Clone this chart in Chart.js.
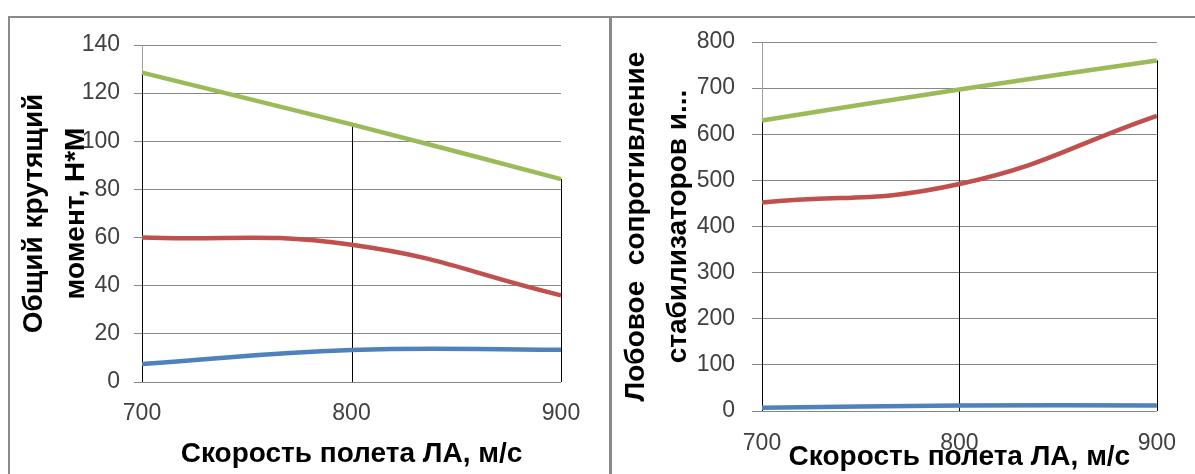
<!DOCTYPE html>
<html>
<head>
<meta charset="utf-8">
<script src="https://cdn.jsdelivr.net/npm/chart.js@4"></script>
<style>
  body { margin: 0; background: #fff; width: 1195px; height: 474px; overflow: hidden; position: relative; }
  .panel { position: absolute; top: 16px; height: 470px; border-top: 2px solid #8a8a8a; border-left: 2px solid #8a8a8a; }
  #leftPanel { left: 8px; width: 601px; }
  #rightPanel { left: 609px; width: 586px; border-left-width: 3px; }
  canvas { display: block; }
</style>
</head>
<body>
<div class="panel" id="leftPanel"><canvas id="torque" width="599" height="456"></canvas></div>
<div class="panel" id="rightPanel"><canvas id="drag" width="583" height="456"></canvas></div>
<script>
const speeds = [700, 800, 900];

// left chart: общий крутящий момент, Н*М
const torqueBlue = [7.5, 13.3, 13.4];
const torqueRed = [60, 57, 36];
const torqueGreen = [128.5, 107, 84.3];

// right chart: лобовое сопротивление
const dragBlue = [7, 12, 12];
const dragRed = [452, 492, 640];
const dragGreen = [630, 697, 760];

const FONT = "'Liberation Sans', Arial, sans-serif";

// Excel-style drop lines from the highest series down to zero
const dropLines = {
    id: 'dropLines',
    beforeDatasetsDraw(chart) {
        const { ctx, scales: { x, y } } = chart;
        ctx.save();
        ctx.strokeStyle = '#000';
        ctx.lineWidth = 1;
        speeds.forEach((s, i) => {
            const top = Math.max(...chart.data.datasets.map(d => d.data[i]));
            const px = Math.round(x.getPixelForValue(i)) + 0.5;
            ctx.beginPath();
            ctx.moveTo(px, y.getPixelForValue(top));
            ctx.lineTo(px, y.getPixelForValue(0));
            ctx.stroke();
        });
        ctx.restore();
    }
};

function line(data, color) {
    return { data: data, borderColor: color, borderWidth: 4.5, pointRadius: 0, tension: 0.45, fill: false };
}

function makeChart(id, series, cfg) {
    new Chart(document.getElementById(id), {
        type: 'line',
        data: {
            labels: speeds,
            datasets: [
                line(series[0], '#4F81BD'),
                line(series[1], '#C0504D'),
                line(series[2], '#9BBB59')
            ]
        },
        plugins: [dropLines],
        options: {
            responsive: false,
            animation: false,
            layout: { padding: { left: 0, top: cfg.top, right: cfg.right, bottom: 0 } },
            plugins: { legend: { display: false }, tooltip: { enabled: false } },
            scales: {
                x: {
                    offset: false,
                    grid: { display: false, drawTicks: false },
                    border: { display: false },
                    ticks: { color: '#404040', padding: cfg.xPad, font: { family: FONT, size: 23 } },
                    title: {
                        display: true,
                        text: 'Скорость полета ЛА, м/с',
                        color: '#000',
                        padding: { top: 0, bottom: cfg.titleBottom },
                        font: { family: FONT, size: 28, weight: 'bold', lineHeight: 1.2 }
                    },
                    afterFit(scale) { scale.height = cfg.xHeight; }
                },
                y: {
                    min: 0,
                    max: cfg.max,
                    grid: { color: '#878787', tickLength: cfg.tick },
                    border: { color: '#a0a0a0' },
                    ticks: { stepSize: cfg.step, color: '#404040', padding: cfg.yPad, font: { family: FONT, size: 23 } },
                    title: {
                        display: true,
                        text: cfg.yTitle,
                        color: '#000',
                        padding: { top: 3, bottom: 0 },
                        font: { family: FONT, size: 28, weight: 'bold', lineHeight: 1.5 }
                    },
                    afterFit(scale) {
                        scale.width = cfg.yWidth;
                        scale.paddingTop = 0;
                        scale.paddingBottom = 0;
                    }
                }
            }
        }
    });
}

makeChart('torque', [torqueBlue, torqueRed, torqueGreen], {
    max: 140, step: 20, top: 27, right: 48, yWidth: 132, xHeight: 92,
    tick: 8, yPad: 14, xPad: 18, titleBottom: 3,
    yTitle: ['Общий крутящий', 'момент, Н*М']
});

makeChart('drag', [dragBlue, dragRed, dragGreen], {
    max: 800, step: 100, top: 24, right: 33, yWidth: 150, xHeight: 63,
    tick: 10, yPad: 17, xPad: 19, titleBottom: 0,
    yTitle: ['Лобовое  сопротивление', 'стабилизаторов и...']
});
</script>
</body>
</html>
